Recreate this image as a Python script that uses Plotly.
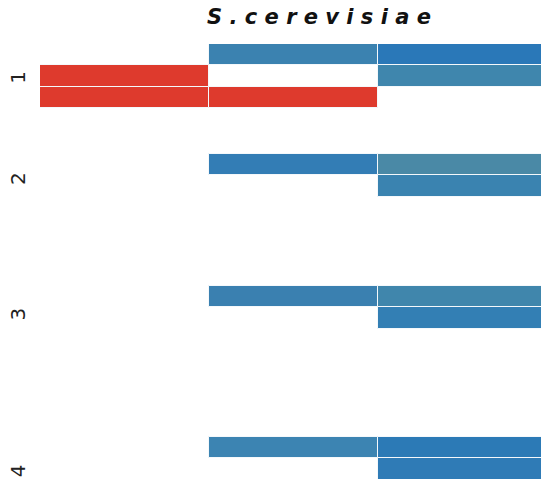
import plotly.graph_objects as go

# Group labels shown on the y axis and where each group sits (in row units)
group_labels = ["1", "2", "3", "4"]
group_tick_pos = [1.2, 5.95, 12.3, 19.65]

# Row centres (row units); groups 2-4 hold two rows, group 1 holds three
row_pos = [0.0, 1.0, 2.0, 5.15, 6.15, 11.34, 12.34, 18.42, 19.42]

# Filled cells: row index, column index, sign of the change (-1 down, +1 up)
cell_row = [0, 0, 1, 1, 2, 2, 3, 3, 4, 5, 5, 6, 7, 7, 8]
cell_col = [1, 2, 0, 2, 0, 1, 1, 2, 2, 1, 2, 2, 1, 2, 2]
cell_sign = [1, 1, -1, 1, -1, -1, 1, 1, 1, 1, 1, 1, 1, 1, 1]
cell_color = [
    "#3b82b0", "#2a78b8",
    "#de3a2d", "#3f86ad",
    "#de3a2d", "#de3a2d",
    "#337db5", "#4a89a6",
    "#3a83b0",
    "#3a80b0", "#4086ac",
    "#337fb4",
    "#3c84b2", "#2c7ab6",
    "#2f7bb6",
]

title_text = "S.cerevisiae"

fig = go.Figure(
    go.Bar(
        orientation="h",
        y=[row_pos[r] for r in cell_row],
        base=cell_col,
        x=[1] * len(cell_col),
        width=1,
        customdata=cell_sign,
        marker=dict(color=cell_color, line=dict(color="#f4f8fb", width=1)),
        hovertemplate="col %{base}<br>sign %{customdata}<extra></extra>",
    )
)

fig.update_layout(
    width=541,
    height=479,
    margin=dict(l=40, r=0, t=44, b=0),
    paper_bgcolor="white",
    plot_bgcolor="white",
    showlegend=False,
    bargap=0,
    font=dict(family="DejaVu Sans", color="#222222"),
    title=dict(
        text=" ".join(title_text),
        font=dict(family="DejaVu Sans", size=21, weight="bold", style="italic", color="#111111"),
        x=319 / 541,
        xanchor="center",
        xref="container",
        y=1 - 17 / 479,
        yanchor="middle",
        yref="container",
    ),
)

fig.update_xaxes(
    range=[0, 501 / 169],
    showgrid=False,
    zeroline=False,
    showticklabels=False,
    showline=False,
    ticks="",
    fixedrange=True,
)
fig.update_yaxes(
    range=[19.89, -0.5],
    tickvals=group_tick_pos,
    ticktext=group_labels,
    tickangle=-90,
    ticklabelstandoff=10,
    tickfont=dict(size=20, family="DejaVu Sans", color="#222222"),
    showgrid=False,
    zeroline=False,
    showline=False,
    ticks="",
    fixedrange=True,
)

fig.write_html("out.html")
